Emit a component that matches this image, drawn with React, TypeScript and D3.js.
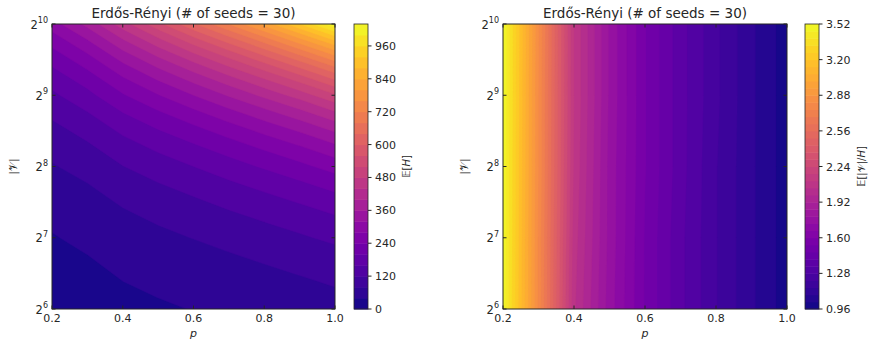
import React, { useRef, useEffect } from "react";
import * as d3 from "d3";

const pValues = [0.2, 0.3, 0.4, 0.5, 0.6, 0.7, 0.8, 0.9, 1.0];
const nodeCounts = [64, 128, 256, 512, 1024];

// E[H], one row per |V| (64 ... 1024), one column per p
const hittingRows = [
  [19, 24, 31, 36, 41, 46, 52, 58, 65],
  [38, 47, 60, 71, 81, 92, 103, 115, 128],
  [77, 94, 119, 140, 160, 182, 205, 229, 257],
  [152, 188, 236, 278, 320, 364, 410, 458, 515],
  [302, 372, 462, 548, 635, 722, 815, 920, 1034],
];

// E[|V|/H], same layout
const ratioRows = [
  [3.5, 2.8, 2.06, 1.76, 1.53, 1.36, 1.22, 1.1, 0.99],
  [3.51, 2.8, 2.08, 1.77, 1.53, 1.36, 1.22, 1.1, 0.99],
  [3.51, 2.81, 2.1, 1.77, 1.54, 1.37, 1.22, 1.1, 0.99],
  [3.52, 2.81, 2.11, 1.78, 1.54, 1.37, 1.23, 1.1, 0.99],
  [3.52, 2.82, 2.11, 1.78, 1.54, 1.37, 1.23, 1.1, 0.99],
];

const hLevels = d3.range(0, 1041, 40);
const ratioLevels = d3.range(41).map((i) => +(0.96 + i * 0.064).toFixed(3));
const hTicks = [0, 120, 240, 360, 480, 600, 720, 840, 960];
const ratioTicks = [0.96, 1.28, 1.6, 1.92, 2.24, 2.56, 2.88, 3.2, 3.52];
const xTicks = [0.2, 0.4, 0.6, 0.8, 1.0];
const yExponents = [6, 7, 8, 9, 10];

const TITLE = "Erdős-Rényi (# of seeds = 30)";
const FONT = "DejaVu Sans, sans-serif";
const INK = "#262626";

// grid index (d3-contour puts samples at cell centres) -> data value
const indexToValue = (c: number, arr: number[]) => {
  const t = Math.max(0, Math.min(arr.length - 1, c - 0.5));
  const i = Math.min(Math.floor(t), arr.length - 2);
  const f = t - i;
  return arr[i] + f * (arr[i + 1] - arr[i]);
};

type Panel = {
  left: number;
  right: number;
  cbLeft: number;
  rows: number[][];
  levels: number[];
  ticks: number[];
  fmt: (v: number) => string;
  cbLabel: "h" | "ratio";
};

const TOP = 24;
const BOTTOM = 309;
const CB_W = 14;

function drawPanel(svg: any, cfg: Panel, id: string) {
  const x = d3.scaleLinear().domain([0.2, 1.0]).range([cfg.left, cfg.right]);
  const y = d3.scaleLog().base(2).domain([64, 1024]).range([BOTTOM, TOP]);

  const n = pValues.length;
  const m = nodeCounts.length;
  const flat: number[] = [];
  cfg.rows.forEach((row) => row.forEach((v) => flat.push(v)));

  const nb = cfg.levels.length - 1;
  const color = (i: number) => d3.interpolatePlasma((i + 0.5) / nb);

  const contours = d3.contours().size([n, m]).thresholds(cfg.levels.slice(0, nb))(flat);

  const proj = d3.geoTransform({
    point: function (px: number, py: number) {
      this.stream.point(x(indexToValue(px, pValues)), y(indexToValue(py, nodeCounts)));
    },
  });
  const path = d3.geoPath(proj);

  svg
    .append("clipPath")
    .attr("id", id)
    .append("rect")
    .attr("x", cfg.left)
    .attr("y", TOP)
    .attr("width", cfg.right - cfg.left)
    .attr("height", BOTTOM - TOP);

  const g = svg.append("g").attr("clip-path", `url(#${id})`);
  g.append("rect")
    .attr("x", cfg.left)
    .attr("y", TOP)
    .attr("width", cfg.right - cfg.left)
    .attr("height", BOTTOM - TOP)
    .attr("fill", color(0));

  g.selectAll("path")
    .data(contours)
    .join("path")
    .attr("d", (d: any) => path(d))
    .attr("fill", (d: any, i: number) => color(i))
    .attr("stroke", (d: any, i: number) => color(i))
    .attr("stroke-width", 0.4);

  // frame
  svg
    .append("rect")
    .attr("x", cfg.left)
    .attr("y", TOP)
    .attr("width", cfg.right - cfg.left)
    .attr("height", BOTTOM - TOP)
    .attr("fill", "none")
    .attr("stroke", INK)
    .attr("stroke-width", 1);

  // inward ticks on all four sides
  const tl = 3.5;
  xTicks.forEach((t) => {
    svg.append("line").attr("x1", x(t)).attr("x2", x(t)).attr("y1", BOTTOM).attr("y2", BOTTOM - tl).attr("stroke", INK);
    svg.append("line").attr("x1", x(t)).attr("x2", x(t)).attr("y1", TOP).attr("y2", TOP + tl).attr("stroke", INK);
    svg
      .append("text")
      .attr("x", x(t))
      .attr("y", BOTTOM + 13)
      .attr("text-anchor", "middle")
      .attr("font-size", 11)
      .attr("font-family", FONT)
      .attr("fill", INK)
      .text(t.toFixed(1));
  });

  yExponents.forEach((e) => {
    const yy = y(Math.pow(2, e));
    svg.append("line").attr("x1", cfg.left).attr("x2", cfg.left + tl).attr("y1", yy).attr("y2", yy).attr("stroke", INK);
    svg.append("line").attr("x1", cfg.right).attr("x2", cfg.right - tl).attr("y1", yy).attr("y2", yy).attr("stroke", INK);
    const txt = svg
      .append("text")
      .attr("x", cfg.left - 4)
      .attr("y", yy + 4.5)
      .attr("text-anchor", "end")
      .attr("font-size", 11.5)
      .attr("font-family", FONT)
      .attr("fill", INK);
    txt.append("tspan").text("2");
    txt.append("tspan").attr("dy", -5.5).attr("font-size", 8).text(String(e));
  });

  // axis labels
  const cx = (cfg.left + cfg.right) / 2;
  svg
    .append("text")
    .attr("x", cx)
    .attr("y", 337)
    .attr("text-anchor", "middle")
    .attr("font-size", 11)
    .attr("font-style", "italic")
    .attr("font-family", FONT)
    .attr("fill", INK)
    .text("p");

  svg
    .append("text")
    .attr("transform", `translate(${cfg.left - 35},${(TOP + BOTTOM) / 2}) rotate(-90)`)
    .attr("text-anchor", "middle")
    .attr("font-size", 11)
    .attr("font-family", FONT)
    .attr("fill", INK)
    .text("|𝒱|");

  svg
    .append("text")
    .attr("x", cx)
    .attr("y", 18)
    .attr("text-anchor", "middle")
    .attr("font-size", 13.5)
    .attr("font-family", FONT)
    .attr("fill", INK)
    .text(TITLE);

  // colorbar
  const cb = d3
    .scaleLinear()
    .domain([cfg.levels[0], cfg.levels[nb]])
    .range([BOTTOM, TOP]);

  svg
    .append("g")
    .selectAll("rect")
    .data(cfg.levels.slice(0, nb))
    .join("rect")
    .attr("x", cfg.cbLeft)
    .attr("width", CB_W)
    .attr("y", (d: number, i: number) => cb(cfg.levels[i + 1]))
    .attr("height", (d: number, i: number) => cb(d) - cb(cfg.levels[i + 1]) + 0.5)
    .attr("fill", (d: number, i: number) => color(i));

  svg
    .append("rect")
    .attr("x", cfg.cbLeft)
    .attr("y", TOP)
    .attr("width", CB_W)
    .attr("height", BOTTOM - TOP)
    .attr("fill", "none")
    .attr("stroke", INK)
    .attr("stroke-width", 0.8);

  const cbRight = cfg.cbLeft + CB_W;
  cfg.ticks.forEach((t) => {
    svg.append("line").attr("x1", cbRight).attr("x2", cbRight + 3.5).attr("y1", cb(t)).attr("y2", cb(t)).attr("stroke", INK);
    svg
      .append("text")
      .attr("x", cbRight + 7)
      .attr("y", cb(t) + 4)
      .attr("font-size", 11)
      .attr("font-family", FONT)
      .attr("fill", INK)
      .text(cfg.fmt(t));
  });

  const lab = svg
    .append("text")
    .attr("transform", `translate(${cbRight + (cfg.cbLabel === "h" ? 42 : 46)},${(TOP + BOTTOM) / 2}) rotate(-90)`)
    .attr("text-anchor", "middle")
    .attr("font-size", 10)
    .attr("font-family", FONT)
    .attr("fill", INK);
  if (cfg.cbLabel === "h") {
    lab.append("tspan").text("𝔼[");
    lab.append("tspan").attr("font-style", "italic").text("H");
    lab.append("tspan").text("]");
  } else {
    lab.append("tspan").text("𝔼[|𝒱|/");
    lab.append("tspan").attr("font-style", "italic").text("H");
    lab.append("tspan").text("]");
  }
}

const App = () => {
  const svgRef = useRef<SVGSVGElement>(null);

  useEffect(() => {
    const svg = d3.select(svgRef.current);
    svg.selectAll("*").remove();

    drawPanel(
      svg,
      {
        left: 52,
        right: 335,
        cbLeft: 354,
        rows: hittingRows,
        levels: hLevels,
        ticks: hTicks,
        fmt: (v) => String(v),
        cbLabel: "h",
      },
      "clip-h"
    );

    drawPanel(
      svg,
      {
        left: 503,
        right: 787,
        cbLeft: 805,
        rows: ratioRows,
        levels: ratioLevels,
        ticks: ratioTicks,
        fmt: (v) => v.toFixed(2),
        cbLabel: "ratio",
      },
      "clip-r"
    );
  }, []);

  return (
    <svg
      ref={svgRef}
      width={871}
      height={346}
      style={{ position: "absolute", left: 0, top: 0, background: "#fff" }}
    />
  );
};

export default App;
